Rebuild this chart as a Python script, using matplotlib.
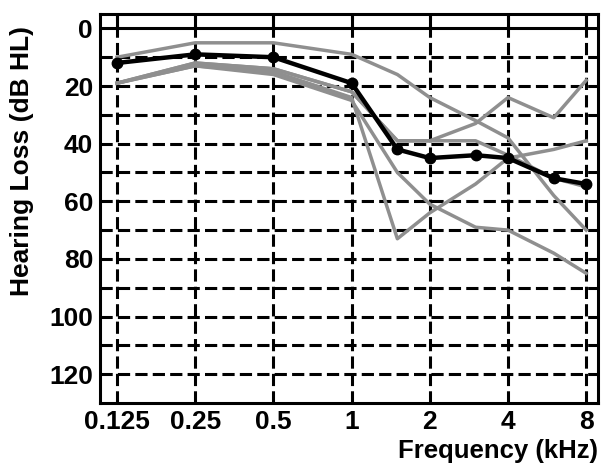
import matplotlib
matplotlib.use("Agg")
import matplotlib.pyplot as plt
import numpy as np

# audiometric frequencies (kHz)
freqs = [0.125, 0.25, 0.5, 1, 1.5, 2, 3, 4, 6, 8]

# individual ears (dB HL)
ear_1 = [10, 5, 5, 9, 16, 24, 32, 38, 58, 70]
ear_2 = [19, 12, 14, 22, 39, 39, 33, 24, 31, 18]
ear_3 = [19, 13, 15, 24, 73, 64, 54, 45, 42, 39]
ear_4 = [19, 13, 16, 25, 50, 61, 69, 70, 78, 85]
ear_5 = [19, 12, 14, 22, 39, 39, 39, 44, 52, 55]
individual = [ear_1, ear_2, ear_3, ear_4, ear_5]

# mean audiogram
mean_loss = [12, 9, 10, 19, 42, 45, 44, 45, 52, 54]

xticks = [0.125, 0.25, 0.5, 1, 2, 4, 8]
xticklabels = ["0.125", "0.25", "0.5", "1", "2", "4", "8"]
yticks = [0, 20, 40, 60, 80, 100, 120]

plt.rcParams['font.family'] = ['Liberation Sans Narrow', 'Liberation Sans', 'DejaVu Sans']
plt.rcParams['font.weight'] = 'bold'

fig = plt.figure(figsize=(6.01, 4.68), dpi=100)
ax = fig.add_axes([100 / 601, 65 / 468, 498 / 601, 389 / 468])

ax.set_xscale('log', base=2)
ax.set_xlim(0.1075, 8.88)
ax.set_ylim(130, -5)

# grid: dashed black
dash = (0, (4, 1.7))
for f in xticks:
    ax.axvline(f, color='black', lw=2.2, linestyle=dash, zorder=1)
for db in range(10, 130, 10):
    ax.axhline(db, color='black', lw=2.2, linestyle=dash, zorder=1)
ax.axhline(0, color='black', lw=2.2, zorder=1)

for ear in individual:
    ax.plot(freqs, ear, color='#8f8f8f', lw=2.5, zorder=2)

ax.plot(freqs, mean_loss, color='black', lw=3.2, marker='o', markersize=7.5, zorder=3)

ax.set_xticks(xticks)
ax.set_xticklabels(xticklabels)
ax.xaxis.set_minor_locator(matplotlib.ticker.NullLocator())
ax.set_yticks(yticks)

ax.tick_params(axis='x', which='major', bottom=False, top=True, direction='in',
               length=10, width=2.2, pad=5, labelsize=19)
ax.tick_params(axis='y', which='major', length=0, pad=5, labelsize=19)
for lab in ax.get_xticklabels() + ax.get_yticklabels():
    lab.set_fontweight('bold')

for sp in ax.spines.values():
    sp.set_linewidth(2.2)
    sp.set_color('black')

fig.text(22 / 601, 1 - 161 / 468, "Hearing Loss (dB HL)", rotation=90,
         ha='center', va='center', fontsize=19, fontweight='bold')
fig.text(598 / 601, 1 - 451 / 468, "Frequency (kHz)", ha='right', va='center',
         fontsize=18.5, fontweight='bold')

fig.savefig("out.png", dpi=100)
